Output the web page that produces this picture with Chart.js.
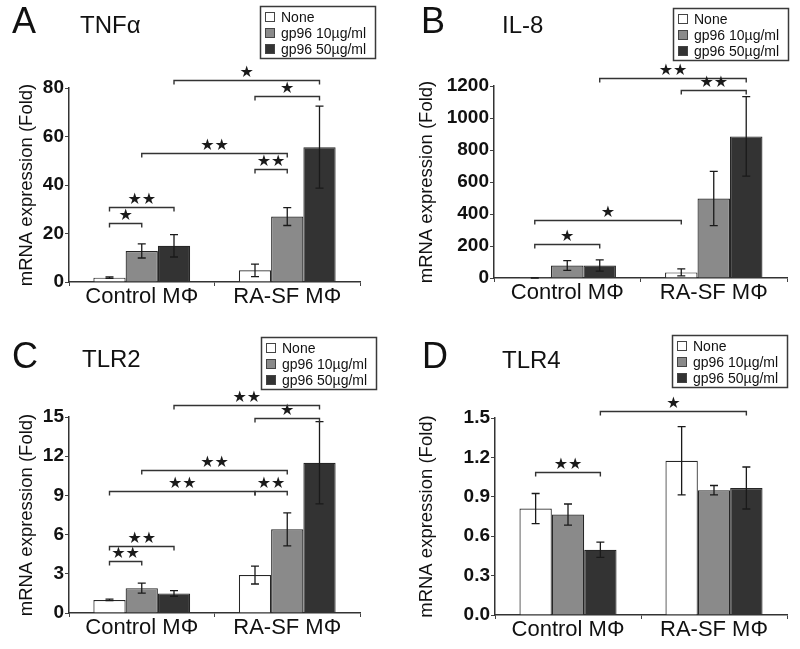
<!DOCTYPE html>
<html>
<head>
<meta charset="utf-8">
<script src="https://cdn.jsdelivr.net/npm/chart.js@4.4.0/dist/chart.umd.min.js"></script>
<style>
  body { margin: 0; background: #fff; width: 800px; height: 649px; position: relative; overflow: hidden; }
  canvas { position: absolute; }
</style>
</head>
<body>
<canvas id="chartA" width="400" height="320" style="left:0;top:0"></canvas>
<canvas id="chartB" width="400" height="320" style="left:400px;top:0"></canvas>
<canvas id="chartC" width="400" height="329" style="left:0;top:320px"></canvas>
<canvas id="chartD" width="400" height="329" style="left:400px;top:320px"></canvas>
<script>
// Categorías y series
const categories = ['Control MΦ', 'RA-SF MΦ'];
const seriesNames = ['None', 'gp96 10µg/ml', 'gp96 50µg/ml'];

// A - TNFα
const tnfNone = [1.8, 4.8];
const tnf10 = [12.8, 27.0];
const tnf50 = [14.9, 55.6];
const tnfNoneErr = [0.3, 2.6];
const tnf10Err = [2.9, 3.7];
const tnf50Err = [4.6, 16.9];
const tnfTicks = [0, 20, 40, 60, 80];
// [barra desde, barra hasta, altura, estrellas] ; barras 0-2 Control, 3-5 RA-SF
const tnfSig = [[0, 1, 24.4, '*'], [0, 2, 30.8, '**'], [1, 4, 53.2, '**'], [3, 4, 46.6, '**'], [2, 5, 83.5, '*'], [3, 5, 76.6, '*']];

// B - IL-8
const il8None = [1, 35];
const il810 = [78, 497];
const il850 = [78, 885];
const il8NoneErr = [1, 22];
const il810Err = [30, 170];
const il850Err = [35, 248];
const il8Ticks = [0, 200, 400, 600, 800, 1000, 1200];
const il8Sig = [[0, 2, 210, '*'], [0, 3, 364, '*'], [2, 5, 1250, '**'], [3, 5, 1177, '**']];

// C - TLR2
const tlr2None = [1.0, 2.9];
const tlr210 = [1.9, 6.4];
const tlr250 = [1.5, 11.5];
const tlr2NoneErr = [0.06, 0.68];
const tlr210Err = [0.38, 1.27];
const tlr250Err = [0.22, 3.15];
const tlr2Ticks = [0, 3, 6, 9, 12, 15];
const tlr2Sig = [[0, 1, 4.0, '**'], [0, 2, 5.15, '**'], [0, 3, 9.35, '**'], [3, 4, 9.35, '**'], [1, 4, 10.95, '**'], [3, 5, 14.95, '*'], [2, 5, 15.9, '**']];

// D - TLR4
const tlr4None = [0.81, 1.175];
const tlr410 = [0.765, 0.95];
const tlr450 = [0.497, 0.967];
const tlr4NoneErr = [0.115, 0.26];
const tlr410Err = [0.08, 0.036];
const tlr450Err = [0.058, 0.16];
const tlr4Ticks = [0, 0.3, 0.6, 0.9, 1.2, 1.5];
const tlr4Sig = [[0, 2, 1.087, '**'], [2, 5, 1.552, '*']];

// Estilo
const FONT = '"Liberation Sans", Arial, Helvetica, sans-serif';
const seriesColors = ['#ffffff', '#8a8a8a', '#333333'];
Chart.defaults.font.family = FONT;

const panels = [
    { id: 'chartA', letter: 'A', gene: 'TNFα', values: [tnfNone, tnf10, tnf50], errors: [tnfNoneErr, tnf10Err, tnf50Err],
      ticks: tnfTicks, sig: tnfSig, decimals: 0,
      yWidth: 69, right: 360, top: 88, bottom: 282, letterPos: [12, 33], genePos: [80, 33], legendPos: [260, 6] },
    { id: 'chartB', letter: 'B', gene: 'IL-8', values: [il8None, il810, il850], errors: [il8NoneErr, il810Err, il850Err],
      ticks: il8Ticks, sig: il8Sig, decimals: 0,
      yWidth: 94, right: 387, top: 86, bottom: 278, letterPos: [21, 33], genePos: [102, 33], legendPos: [273, 8] },
    { id: 'chartC', letter: 'C', gene: 'TLR2', values: [tlr2None, tlr210, tlr250], errors: [tlr2NoneErr, tlr210Err, tlr250Err],
      ticks: tlr2Ticks, sig: tlr2Sig, decimals: 0,
      yWidth: 69, right: 360, top: 97, bottom: 293, letterPos: [12, 48], genePos: [82, 47], legendPos: [261, 17] },
    { id: 'chartD', letter: 'D', gene: 'TLR4', values: [tlr4None, tlr410, tlr450], errors: [tlr4NoneErr, tlr410Err, tlr450Err],
      ticks: tlr4Ticks, sig: tlr4Sig, decimals: 1,
      yWidth: 95, right: 387, top: 98, bottom: 295, letterPos: [22, 48], genePos: [102, 48], legendPos: [272, 15] }
];

// Barras de error, corchetes de significancia, letra, título y leyenda
function extrasFor(p) {
    return {
        id: 'extras' + p.letter,
        afterDatasetsDraw(chart) {
            const ctx = chart.ctx;
            const ys = chart.scales.y;
            const barX = b => chart.getDatasetMeta(b % 3).data[Math.floor(b / 3)].x;
            ctx.save();
            ctx.strokeStyle = '#1a1a1a';
            ctx.lineWidth = 1.3;
            p.errors.forEach((errs, i) => {
                chart.getDatasetMeta(i).data.forEach((bar, j) => {
                    const v = p.values[i][j];
                    const top = ys.getPixelForValue(v + errs[j]);
                    const bot = ys.getPixelForValue(v - errs[j]);
                    ctx.beginPath();
                    ctx.moveTo(bar.x, top); ctx.lineTo(bar.x, bot);
                    ctx.moveTo(bar.x - 4, top); ctx.lineTo(bar.x + 4, top);
                    ctx.moveTo(bar.x - 4, bot); ctx.lineTo(bar.x + 4, bot);
                    ctx.stroke();
                });
            });
            ctx.strokeStyle = '#333';
            ctx.lineWidth = 1.4;
            ctx.fillStyle = '#1a1a1a';
            ctx.font = '16px "DejaVu Sans", sans-serif';
            ctx.textAlign = 'center';
            ctx.textBaseline = 'middle';
            p.sig.forEach(([a, b, h, stars]) => {
                const x1 = barX(a), x2 = barX(b);
                const y = Math.round(ys.getPixelForValue(h)) + 0.5;
                ctx.beginPath();
                ctx.moveTo(x1, y + 4); ctx.lineTo(x1, y); ctx.lineTo(x2, y); ctx.lineTo(x2, y + 4);
                ctx.stroke();
                // los asteriscos se dibujan como estrellas, como en la figura
                ctx.fillText('★'.repeat(stars.length), (x1 + x2) / 2, y - 8);
            });
            ctx.restore();
        },
        afterDraw(chart) {
            const ctx = chart.ctx;
            ctx.save();
            ctx.fillStyle = '#111';
            ctx.textAlign = 'left';
            ctx.textBaseline = 'alphabetic';
            ctx.font = '36px ' + FONT;
            ctx.fillText(p.letter, p.letterPos[0], p.letterPos[1]);
            ctx.font = '24px ' + FONT;
            ctx.fillText(p.gene, p.genePos[0], p.genePos[1]);
            // leyenda
            const [lx, ly] = p.legendPos;
            ctx.strokeStyle = '#3a3a3a';
            ctx.lineWidth = 1.5;
            ctx.strokeRect(lx + 0.5, ly + 0.5, 115, 52);
            ctx.font = '14px ' + FONT;
            ctx.textBaseline = 'middle';
            chart.data.datasets.forEach((ds, i) => {
                const ry = ly + 11 + i * 16;
                ctx.fillStyle = ds.backgroundColor;
                ctx.fillRect(lx + 5, ry - 5, 10, 10);
                ctx.strokeStyle = '#444';
                ctx.lineWidth = 1;
                ctx.strokeRect(lx + 5.5, ry - 4.5, 9, 9);
                ctx.fillStyle = '#111';
                ctx.fillText(ds.label, lx + 21, ry + 1);
            });
            ctx.restore();
        }
    };
}

function crearPanel(p) {
    const canvas = document.getElementById(p.id);
    const datasets = seriesNames.map((name, i) => ({
        label: name,
        data: p.values[i],
        backgroundColor: seriesColors[i],
        borderColor: '#262626',
        borderWidth: 1.2,
        categoryPercentage: 0.665,
        barPercentage: 1.0
    }));
    return new Chart(canvas, {
        type: 'bar',
        data: { labels: categories, datasets: datasets },
        options: {
            responsive: false,
            animation: false,
            layout: { padding: { left: 0, top: p.top, right: canvas.width - p.right, bottom: 0 } },
            plugins: { legend: { display: false }, tooltip: { enabled: false } },
            scales: {
                x: {
                    grid: { drawOnChartArea: false, drawTicks: true, tickLength: 4, color: '#444', offset: true },
                    border: { color: '#333', width: 1.5 },
                    ticks: { color: '#111', font: { size: 22 }, padding: -2, maxRotation: 0, autoSkip: false },
                    afterFit: s => { s.height = canvas.height - p.bottom; }
                },
                y: {
                    min: p.ticks[0],
                    max: p.ticks[p.ticks.length - 1],
                    afterBuildTicks: s => { s.ticks = p.ticks.map(v => ({ value: v })); },
                    grid: { drawOnChartArea: false, tickLength: 4, color: '#444' },
                    border: { color: '#333', width: 1.5 },
                    ticks: { color: '#111', font: { size: 19, weight: 'bold' }, padding: 1,
                             callback: v => Number(v).toFixed(p.decimals) },
                    title: { display: true, text: 'mRNA expression (Fold)', color: '#111',
                             font: { size: 18.5 }, padding: { top: 16, bottom: 0 } },
                    afterFit: s => { s.width = p.yWidth; }
                }
            }
        },
        plugins: [extrasFor(p)]
    });
}

panels.forEach(crearPanel);
</script>
</body>
</html>
